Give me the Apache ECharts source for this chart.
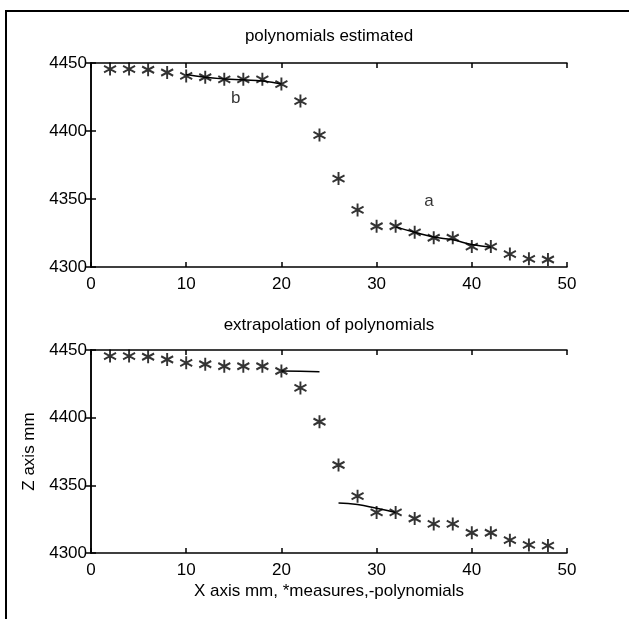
<!DOCTYPE html>
<html>
<head>
<meta charset="utf-8">
<script src="https://cdn.jsdelivr.net/npm/echarts@6/dist/echarts.min.js"></script>
<style>
  html, body { margin: 0; padding: 0; background: #fff; }
  #chart { width: 629px; height: 619px; }
</style>
</head>
<body>
<div id="chart"></div>
<script>
  // measured points (x mm, z mm)
  var xMeasured = [2, 4, 6, 8, 10, 12, 14, 16, 18, 20, 22, 24, 26, 28, 30, 32, 34, 36, 38, 40, 42, 44, 46, 48];
  var zMeasured = [4445.5, 4445.5, 4445, 4443, 4440.5, 4439.5, 4438, 4438, 4438, 4434.5, 4422, 4397,
                   4365, 4342, 4330, 4330, 4325.5, 4321.5, 4321.5, 4315, 4315, 4309.5, 4306, 4305.5];

  // polynomial b (left part) and a (right part)
  var polyBx = [10, 12, 14, 16, 18, 20];
  var polyBz = [4441.5, 4439.5, 4438.3, 4437.6, 4436.8, 4434.5];
  var polyAx = [32, 34, 36, 38, 40, 42];
  var polyAz = [4329.5, 4325.5, 4322, 4320, 4316.5, 4314.5];

  // extrapolations
  var extBx = [20, 22, 24];
  var extBz = [4434.5, 4434.3, 4434];
  var extAx = [26, 28, 30, 32];
  var extAz = [4337, 4335.8, 4333, 4330];

  // curve labels
  var curveLabels = ['b', 'a'];
  var labelX = [15.2, 35.5];
  var labelZ = [4424, 4348];

  var xTicks = [0, 10, 20, 30, 40, 50];
  var zTicks = [4300, 4350, 4400, 4450];

  var FONT = 'Liberation Sans';
  var STAR = 'path://M10,0L10,20M1.34,5L18.66,15M1.34,15L18.66,5';

  function zip(a, b) {
    return a.map(function (v, i) { return [v, b[i]] })
  }

  function xAxisPair(gridIndex, withName) {
    var base = {
      type: 'value', gridIndex: gridIndex, min: xTicks[0], max: xTicks[xTicks.length - 1], interval: 10,
      axisLine: {show: true, lineStyle: {color: '#000', width: 1.5}},
      axisTick: {show: true, inside: true, length: 5, lineStyle: {color: '#000', width: 1.5}},
      splitLine: {show: false}
    };
    var bottom = Object.assign({}, base, {
      position: 'bottom',
      axisLabel: {color: '#000', fontFamily: FONT, fontSize: 17, margin: 9}
    });
    if (withName) {
      bottom.name = 'X axis mm, *measures,-polynomials';
      bottom.nameLocation = 'middle';
      bottom.nameGap = 30;
      bottom.nameTextStyle = {color: '#000', fontFamily: FONT, fontSize: 17};
    }
    var top = Object.assign({}, base, {position: 'top', axisLabel: {show: false}});
    return [bottom, top];
  }

  function yAxisPair(gridIndex, withName) {
    var base = {
      type: 'value', gridIndex: gridIndex, min: zTicks[0], max: zTicks[zTicks.length - 1], interval: 50,
      axisLine: {show: true, lineStyle: {color: '#000', width: 1.5}},
      axisTick: {show: true, inside: true, length: 5, lineStyle: {color: '#000', width: 1.5}},
      splitLine: {show: false}
    };
    var left = Object.assign({}, base, {
      position: 'left',
      axisLabel: {color: '#000', fontFamily: FONT, fontSize: 17, margin: 4,
        formatter: function (v) { return String(v) }}
    });
    if (withName) {
      left.name = 'Z axis mm';
      left.nameLocation = 'middle';
      left.nameGap = 42;
      left.nameTextStyle = {color: '#000', fontFamily: FONT, fontSize: 17};
    }
    var right = Object.assign({}, base, {position: 'right', axisLabel: {show: false}});
    return [left, right];
  }

  function stars(axisIdx) {
    return {
      type: 'scatter', xAxisIndex: axisIdx, yAxisIndex: axisIdx,
      symbol: STAR, symbolSize: [12, 13],
      itemStyle: {color: 'none', borderColor: '#000', borderWidth: 2},
      data: zip(xMeasured, zMeasured), z: 3
    }
  }

  function curve(axisIdx, xs, zs) {
    return {
      type: 'line', xAxisIndex: axisIdx, yAxisIndex: axisIdx, smooth: true,
      showSymbol: false, lineStyle: {color: '#000', width: 1.5},
      data: zip(xs, zs), z: 2
    }
  }

  var chart = echarts.init(document.getElementById('chart'), null, {renderer: 'canvas'});
  var option = {
    backgroundColor: '#fff',
    animation: false,
    title: [
      {text: 'polynomials estimated', left: 329, top: 28, textAlign: 'center', padding: 0,
        textStyle: {color: '#000', fontFamily: FONT, fontSize: 17, fontWeight: 'normal'}},
      {text: 'extrapolation of polynomials', left: 329, top: 317, textAlign: 'center', padding: 0,
        textStyle: {color: '#000', fontFamily: FONT, fontSize: 17, fontWeight: 'normal'}}
    ],
    grid: [
      {left: 91, top: 63, width: 476, height: 204},
      {left: 91, top: 350, width: 476, height: 203}
    ],
    xAxis: xAxisPair(0, false).concat(xAxisPair(1, true)),
    yAxis: yAxisPair(0, false).concat(yAxisPair(1, true)),
    graphic: [
      {type: 'polyline', shape: {points: [[6, 619], [6, 11], [629, 11]]},
        style: {stroke: '#000', lineWidth: 2, fill: null}, silent: true}
    ],
    series: [
      stars(0),
      curve(0, polyBx, polyBz),
      curve(0, polyAx, polyAz),
      {
        type: 'scatter', xAxisIndex: 0, yAxisIndex: 0, symbol: 'circle', symbolSize: 1,
        itemStyle: {color: 'rgba(0,0,0,0)'},
        label: {show: true, position: 'inside', color: '#000', fontFamily: FONT, fontSize: 17,
          formatter: function (p) { return curveLabels[p.dataIndex] }},
        data: zip(labelX, labelZ), z: 4
      },
      stars(2),
      curve(2, extBx, extBz),
      curve(2, extAx, extAz)
    ]
  };
  chart.setOption(option);
</script>
</body>
</html>
